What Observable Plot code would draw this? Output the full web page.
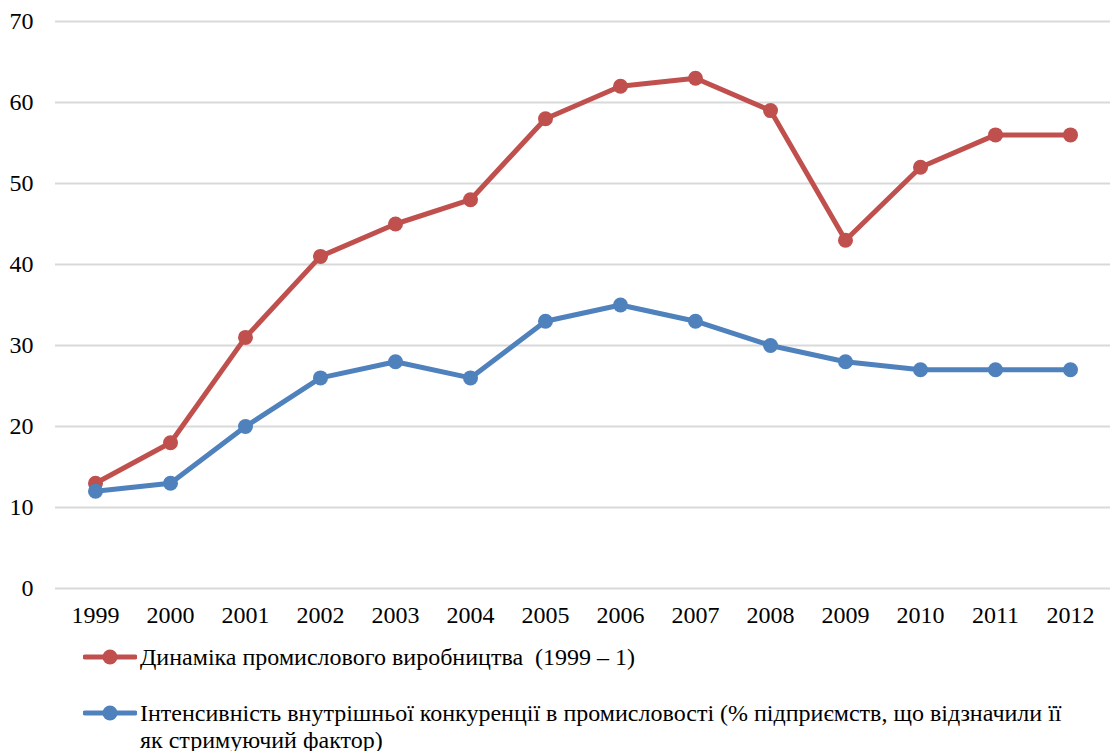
<!DOCTYPE html>
<html>
<head>
<meta charset="utf-8">
<script src="https://cdn.jsdelivr.net/npm/d3@7"></script>
<script src="https://cdn.jsdelivr.net/npm/@observablehq/plot@0.6"></script>
<style>
  html, body { margin: 0; padding: 0; background: #fff; overflow: hidden; }
  body { font-family: "Liberation Serif", "DejaVu Serif", serif; color: #000; width: 1110px; }
  #legend { position: relative; height: 111px; font-size: 24px; }
  .item { position: absolute; left: 83px; display: flex; align-items: flex-start; }
  .item svg { flex: none; margin-top: 1px; }
  .item .txt { margin-left: 3px; line-height: 27px; white-space: pre; }
</style>
</head>
<body>
<div id="chart"></div>
<div id="legend"></div>
<script>
const years = ["1999","2000","2001","2002","2003","2004","2005","2006","2007","2008","2009","2010","2011","2012"];
const production = [13, 18, 31, 41, 45, 48, 58, 62, 63, 59, 43, 52, 56, 56];
const competition = [12, 13, 20, 26, 28, 26, 33, 35, 33, 30, 28, 27, 27, 27];
const seriesNames = [
  "Динаміка промислового виробництва  (1999 – 1)",
  "Інтенсивність внутрішньої конкуренції в промисловості (% підприємств, що відзначили її як стримуючий фактор)"
];
const seriesColors = ["#C0504D", "#4F81BD"];
const yTicks = [0, 10, 20, 30, 40, 50, 60, 70];

const data = [
  ...years.map((y, i) => ({year: y, value: production[i], series: seriesNames[0]})),
  ...years.map((y, i) => ({year: y, value: competition[i], series: seriesNames[1]}))
];

const FONT = "Liberation Serif, DejaVu Serif, serif";

const chart = Plot.plot({
  width: 1110,
  height: 640,
  marginLeft: 55,
  marginRight: 0,
  marginTop: 21,
  marginBottom: 52,
  style: {fontFamily: FONT, fontSize: "24px", color: "#000", background: "#fff"},
  x: {type: "point", domain: years, padding: 0.5},
  y: {domain: [0, 70]},
  color: {domain: seriesNames, range: seriesColors},
  marks: [
    Plot.ruleY(yTicks, {stroke: "#d9d9d9", strokeWidth: 2}),
    Plot.line(data, {x: "year", y: "value", z: "series", stroke: "series", strokeWidth: 5, strokeLinejoin: "round"}),
    Plot.dot(data, {x: "year", y: "value", fill: "series", r: 7.5}),
    Plot.axisX({tickSize: 0, tickPadding: 17, label: null, fill: "#000", fontFamily: FONT}),
    Plot.axisY(yTicks, {tickSize: 0, tickPadding: 22, label: null, fill: "#000", fontFamily: FONT})
  ]
});
document.getElementById("chart").appendChild(chart);

// Legend
const legend = document.getElementById("legend");
const tops = [4, 60];
const lines = [[seriesNames[0]], [
  "Інтенсивність внутрішньої конкуренції в промисловості (% підприємств, що відзначили її",
  "як стримуючий фактор)"
]];
seriesNames.forEach((name, i) => {
  const item = document.createElement("div");
  item.className = "item";
  item.style.top = tops[i] + "px";
  const c = seriesColors[i];
  item.innerHTML = `<svg width="54" height="24"><line x1="2" y1="12" x2="52" y2="12" stroke="${c}" stroke-width="5" stroke-linecap="round"/><circle cx="27" cy="12" r="7.5" fill="${c}"/></svg>`;
  const txt = document.createElement("div");
  txt.className = "txt";
  lines[i].forEach((l, j) => {
    if (j > 0) txt.appendChild(document.createElement("br"));
    txt.appendChild(document.createTextNode(l));
  });
  item.appendChild(txt);
  legend.appendChild(item);
});
</script>
</body>
</html>
